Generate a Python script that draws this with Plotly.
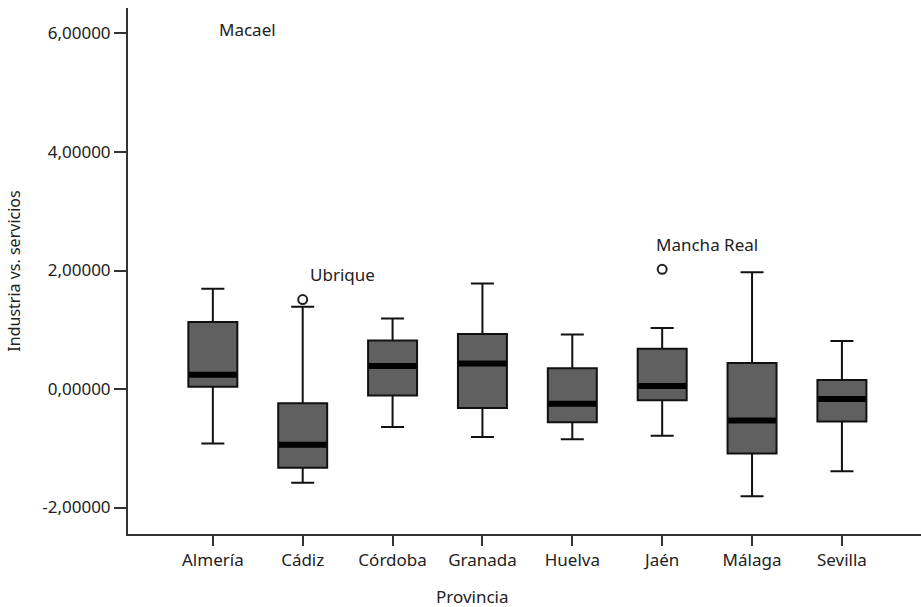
import plotly.graph_objects as go

provincias = ["Almería", "Cádiz", "Córdoba", "Granada", "Huelva", "Jaén", "Málaga", "Sevilla"]
lower = [-0.92, -1.58, -0.64, -0.81, -0.85, -0.79, -1.81, -1.39]
q1 = [0.04, -1.33, -0.11, -0.32, -0.56, -0.19, -1.09, -0.55]
median = [0.24, -0.94, 0.39, 0.43, -0.25, 0.05, -0.53, -0.17]
q3 = [1.13, -0.24, 0.82, 0.93, 0.35, 0.68, 0.44, 0.15]
upper = [1.69, 1.39, 1.19, 1.78, 0.92, 1.03, 1.97, 0.81]

outlier_prov = ["Cádiz", "Jaén"]
outlier_val = [1.51, 2.02]
outlier_name = ["Ubrique", "Mancha Real"]

extreme_prov = "Almería"
extreme_name = "Macael"
extreme_label_y = 6.06

FONT = "Noto Sans"
FS = 17
TXT = "#222222"
BOX_W = 0.545

fig = go.Figure()
fig.add_trace(go.Box(
    x=provincias, q1=q1, median=median, q3=q3,
    lowerfence=lower, upperfence=upper,
    width=BOX_W, whiskerwidth=0.47,
    fillcolor="#606060", line=dict(color="#111111", width=2),
    boxpoints=False, hoverinfo="skip", showlegend=False,
))
fig.add_trace(go.Scatter(
    x=provincias, y=median, mode="markers",
    marker=dict(symbol="line-ew", size=34, color="#000000",
                line=dict(color="#000000", width=6)),
    hoverinfo="skip", showlegend=False,
))
fig.add_trace(go.Scatter(
    x=outlier_prov, y=outlier_val, mode="markers",
    marker=dict(symbol="circle-open", size=9, color="#222222",
                line=dict(color="#222222", width=2)),
    hoverinfo="skip", showlegend=False,
))

for p, v, n in zip(outlier_prov, outlier_val, outlier_name):
    fig.add_annotation(x=p, y=v, text=n, showarrow=False, xanchor="left",
                       yanchor="middle", yshift=25, xshift=-8 if n == "Mancha Real" else 5,
                       font=dict(family=FONT, size=FS, color=TXT))
fig.add_annotation(x=extreme_prov, y=extreme_label_y, text=extreme_name, showarrow=False,
                   xanchor="left", yanchor="middle", xshift=4,
                   font=dict(family=FONT, size=FS, color=TXT))

fig.add_annotation(xref="paper", yref="paper", x=0.434, y=-0.118, text="Provincia",
                   showarrow=False, xanchor="center", yanchor="middle",
                   font=dict(family=FONT, size=FS, color=TXT))

fig.update_layout(
    width=921, height=607,
    margin=dict(l=128, r=0, t=8, b=73),
    paper_bgcolor="white", plot_bgcolor="white",
    font=dict(family=FONT, size=FS, color=TXT),
    xaxis=dict(
        range=[-0.944, 7.88], showgrid=False, zeroline=False,
        showline=True, linecolor="#333333", linewidth=2,
        ticks="outside", ticklen=10, tickwidth=2, tickcolor="#333333",
        tickfont=dict(family=FONT, size=FS, color=TXT),
    ),
    yaxis=dict(
        range=[-2.447, 6.43], showgrid=False, zeroline=False,
        showline=True, linecolor="#333333", linewidth=2,
        ticks="outside", ticklen=12, tickwidth=2, tickcolor="#333333",
        tickvals=[-2, 0, 2, 4, 6],
        ticktext=["-2,00000", "0,00000", "2,00000", "4,00000", "6,00000"],
        tickfont=dict(family=FONT, size=FS, color=TXT),
        title=dict(text="Industria vs. servicios", standoff=18,
                   font=dict(family=FONT, size=16, color=TXT)),
    ),
)

fig.write_html("out.html", config={"displayModeBar": False},
               post_script="document.body.style.margin='0';")
